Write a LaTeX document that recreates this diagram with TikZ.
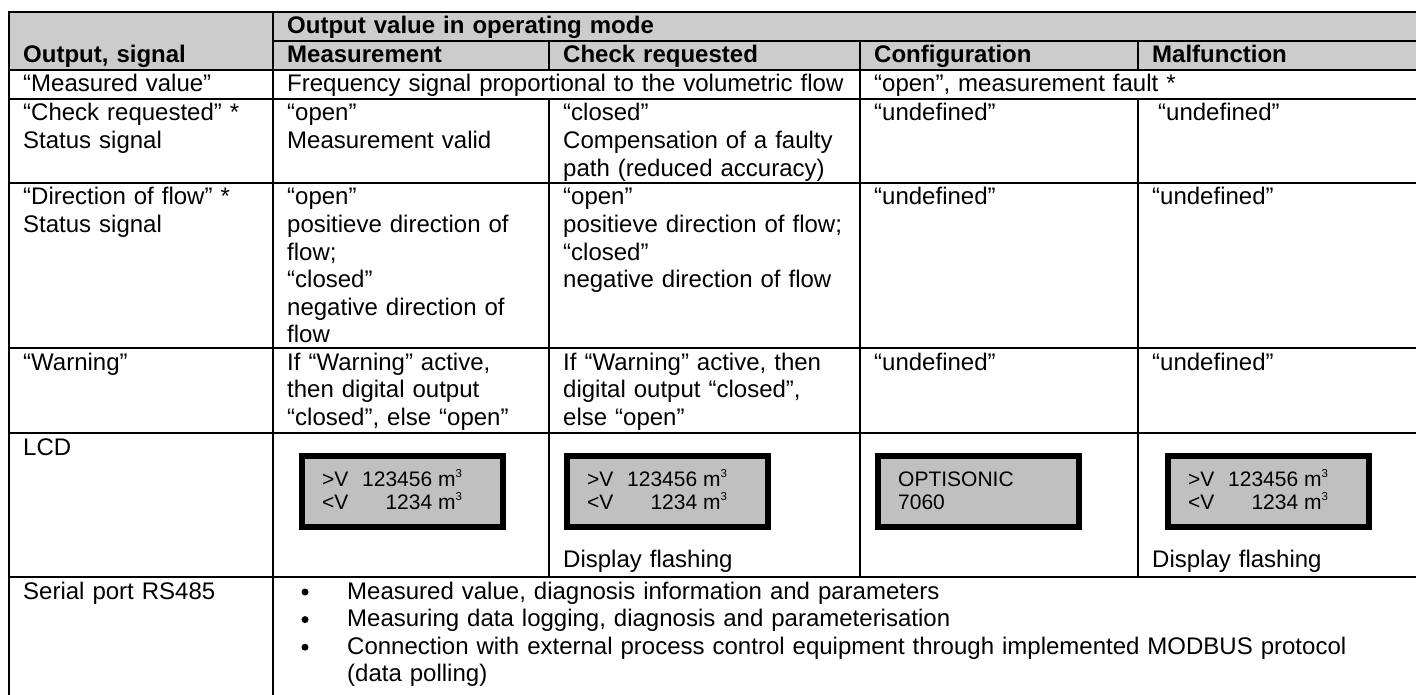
\documentclass[tikz,border=0pt]{standalone}
\usepackage{fontspec}
\setmainfont{Liberation Sans}
\definecolor{hdr}{RGB}{204,204,204}
\definecolor{lcdfill}{RGB}{192,192,192}
\tikzset{
  tline/.style={line width=2pt},
  txt/.style={anchor=base west, inner sep=0pt, align=left, text width=#1, font=\fontsize{24}{27.6}\selectfont},
  txt/.default=560pt,
  hd/.style={txt, font=\fontsize{24}{27.6}\selectfont\bfseries},
  lcdbox/.style={draw=black, line width=6pt, fill=lcdfill, inner sep=0pt, minimum width=201pt, minimum height=71pt, anchor=north west},
  lcdtxt/.style={anchor=base west, inner sep=0pt, font=\fontsize{21}{23}\selectfont},
  bul/.style={circle, fill=black, draw=none, inner sep=0pt, minimum size=7pt},
}
\newcommand{\cubic}{\raisebox{8.5pt}{\fontsize{11.5}{11.5}\selectfont 3}}
\newcommand{\lcdlines}{\begin{tabular}[t]{@{}l@{\hspace{13.7pt}}r@{}}>V & 123456 m\cubic\\ <V & 1234 m\cubic\end{tabular}}
\begin{document}
\begin{tikzpicture}[x=1pt,y=-1pt]
\useasboundingbox (0,0) rectangle (1416,695);
% header background
\fill[hdr] (9,12) rectangle (1420,70);
% horizontal lines
\draw[tline] (9,12) -- (1420,12);
\draw[tline] (273,41) -- (1420,41);
\foreach \yy in {70,99,183,348,433,577} \draw[tline] (9,\yy) -- (1420,\yy);
% vertical lines
\draw[tline] (9,11) -- (9,700);
\draw[tline] (273,11) -- (273,700);
\draw[tline] (549,41) -- (549,70);
\draw[tline] (549,99) -- (549,577);
\draw[tline] (860,41) -- (860,577);
\draw[tline] (1138,41) -- (1138,70);
\draw[tline] (1138,99) -- (1138,577);

% header
\node[hd] (hOV) at (287,34) {Output value in operating mode};
\node[hd] (hOS) at (23,63) {Output, signal};
\node[hd] (hM) at (287,63) {Measurement};
\node[hd] (hC) at (563,63) {Check requested};
\node[hd] (hK) at (874,63) {Configuration};
\node[hd] (hF) at (1152,63) {Malfunction};

% measured value row
\node[txt] (r1a) at (23,92) {“Measured value”};
\node[txt=600pt] (r1b) at (287,92) {Frequency signal proportional to the volumetric flow};
\node[txt] (r1c) at (874,92) {“open”, measurement fault *};

% check requested row
\node[txt] (r2a) at (23,121) {“Check requested” *\\Status signal};
\node[txt] (r2b) at (287,121) {“open”\\Measurement valid};
\node[txt] (r2c) at (563,121) {“closed”\\Compensation of a faulty\\path (reduced accuracy)};
\node[txt] (r2d) at (874,121) {“undefined”};
\node[txt] (r2e) at (1158,121) {“undefined”};

% direction of flow row
\node[txt] (r3a) at (23,205) {“Direction of flow” *\\Status signal};
\node[txt] (r3b) at (287,205) {“open”\\positieve direction of\\flow;\\“closed”\\negative direction of\\flow};
\node[txt] (r3c) at (563,205) {“open”\\positieve direction of flow;\\“closed”\\negative direction of flow};
\node[txt] (r3d) at (874,205) {“undefined”};
\node[txt] (r3e) at (1152,205) {“undefined”};

% warning row
\node[txt] (r4a) at (23,370) {“Warning”};
\node[txt] (r4b) at (287,370) {If “Warning” active,\\then digital output\\“closed”, else “open”};
\node[txt] (r4c) at (563,370) {If “Warning” active, then\\digital output “closed”,\\else “open”};
\node[txt] (r4d) at (874,370) {“undefined”};
\node[txt] (r4e) at (1152,370) {“undefined”};

% LCD row
\node[txt] (r5a) at (23,455) {LCD};
\node[lcdbox] (lcd1) at (299,453) {};
\node[lcdbox] (lcd2) at (564,453) {};
\node[lcdbox] (lcd3) at (875,453) {};
\node[lcdbox] (lcd4) at (1165,453) {};
\node[lcdtxt] (l1t) at (322,486) {\lcdlines};
\node[lcdtxt] (l2t) at (587,486) {\lcdlines};
\node[lcdtxt] (l3t) at (898,486) {\begin{tabular}[t]{@{}l@{}}OPTISONIC\\7060\end{tabular}};
\node[lcdtxt] (l4t) at (1188,486) {\lcdlines};
\node[txt] (r5c) at (563,567) {Display flashing};
\node[txt] (r5e) at (1152,567) {Display flashing};

% serial row
\node[txt] (r6a) at (23,599) {Serial port RS485};
\node[bul] (b1) at (305,592) {};
\node[bul] (b2) at (305,619.6) {};
\node[bul] (b3) at (305,647.2) {};
\node[txt=1100pt] (s1) at (347,599) {Measured value, diagnosis information and parameters};
\node[txt=1100pt] (s2) at (347,626.6) {Measuring data logging, diagnosis and parameterisation};
\node[txt=1100pt] (s3) at (347,654.2) {Connection with external process control equipment through implemented MODBUS protocol\\(data polling)};
\end{tikzpicture}
\end{document}
